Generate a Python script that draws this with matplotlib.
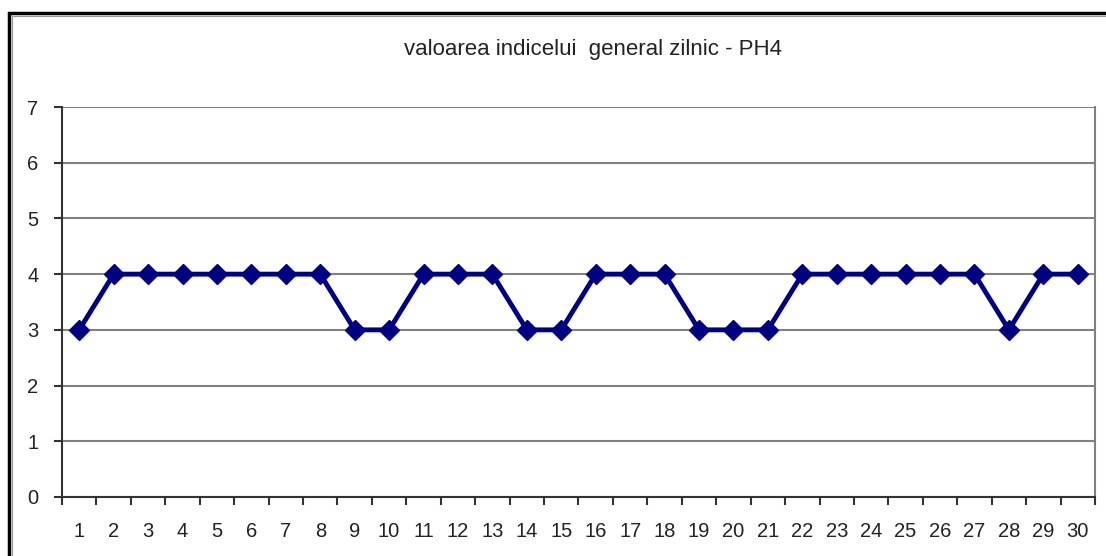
import matplotlib
matplotlib.use("agg")
from matplotlib import pyplot as plt
from matplotlib.patches import Rectangle

title = "valoarea indicelui  general zilnic - PH4"
days = list(range(1, 31))
values = [3, 4, 4, 4, 4, 4, 4, 4, 3, 3, 4, 4, 4, 3, 3, 4, 4, 4, 3, 3, 3, 4, 4, 4, 4, 4, 4, 3, 4, 4]

W, H = 1106, 556
plt.rcParams["font.family"] = ["Liberation Sans", "DejaVu Sans"]

fig = plt.figure(figsize=(W / 100, H / 100), dpi=100)
fig.patch.set_facecolor("white")

# outer chart border (cut off on right and bottom in the reference)
fig.patches.append(Rectangle((9 / W, -0.1), 1.2, 1 - 13 / H + 0.1, transform=fig.transFigure,
                             fill=False, edgecolor="black", linewidth=2.5))
fig.patches.append(Rectangle((12 / W, -0.1), 1.2, 1 - 16 / H + 0.1, transform=fig.transFigure,
                             fill=False, edgecolor="#999999", linewidth=0.8))

left, right, top, bottom = 62, 1095, 107, 497
ax = fig.add_axes([left / W, 1 - bottom / H, (right - left) / W, (bottom - top) / H])

ax.plot(days, values, color="#000080", linewidth=3.5, marker="D", markersize=10,
        markerfacecolor="#000080", markeredgecolor="#000080", zorder=3)

ax.set_xlim(0.5, 30.5)
ax.set_ylim(0, 7)
ax.set_yticks(range(0, 8))
ax.set_xticks(days)
ax.set_xticks([d + 0.5 for d in range(0, 31)], minor=True)
ax.tick_params(axis="x", which="major", length=0, pad=18, labelsize=14.5, labelcolor="#222222")
ax.tick_params(axis="x", which="minor", length=6, width=1.5, color="#333333", direction="out")
ax.tick_params(axis="y", length=6, width=1.5, color="#333333", pad=11, labelsize=14.5,
               labelcolor="#222222")

ax.grid(axis="y", color="#808080", linewidth=1.5)
ax.set_axisbelow(True)
ax.spines["top"].set_visible(False)
ax.spines["right"].set_color("#808080")
ax.spines["right"].set_linewidth(1.5)
ax.spines["left"].set_color("#333333")
ax.spines["left"].set_linewidth(1.5)
ax.spines["bottom"].set_color("#333333")
ax.spines["bottom"].set_linewidth(1.5)

fig.text(593 / W, 1 - 50 / H, title, ha="center", va="center", fontsize=16, color="#222222")

fig.savefig("out.png", dpi=100)
